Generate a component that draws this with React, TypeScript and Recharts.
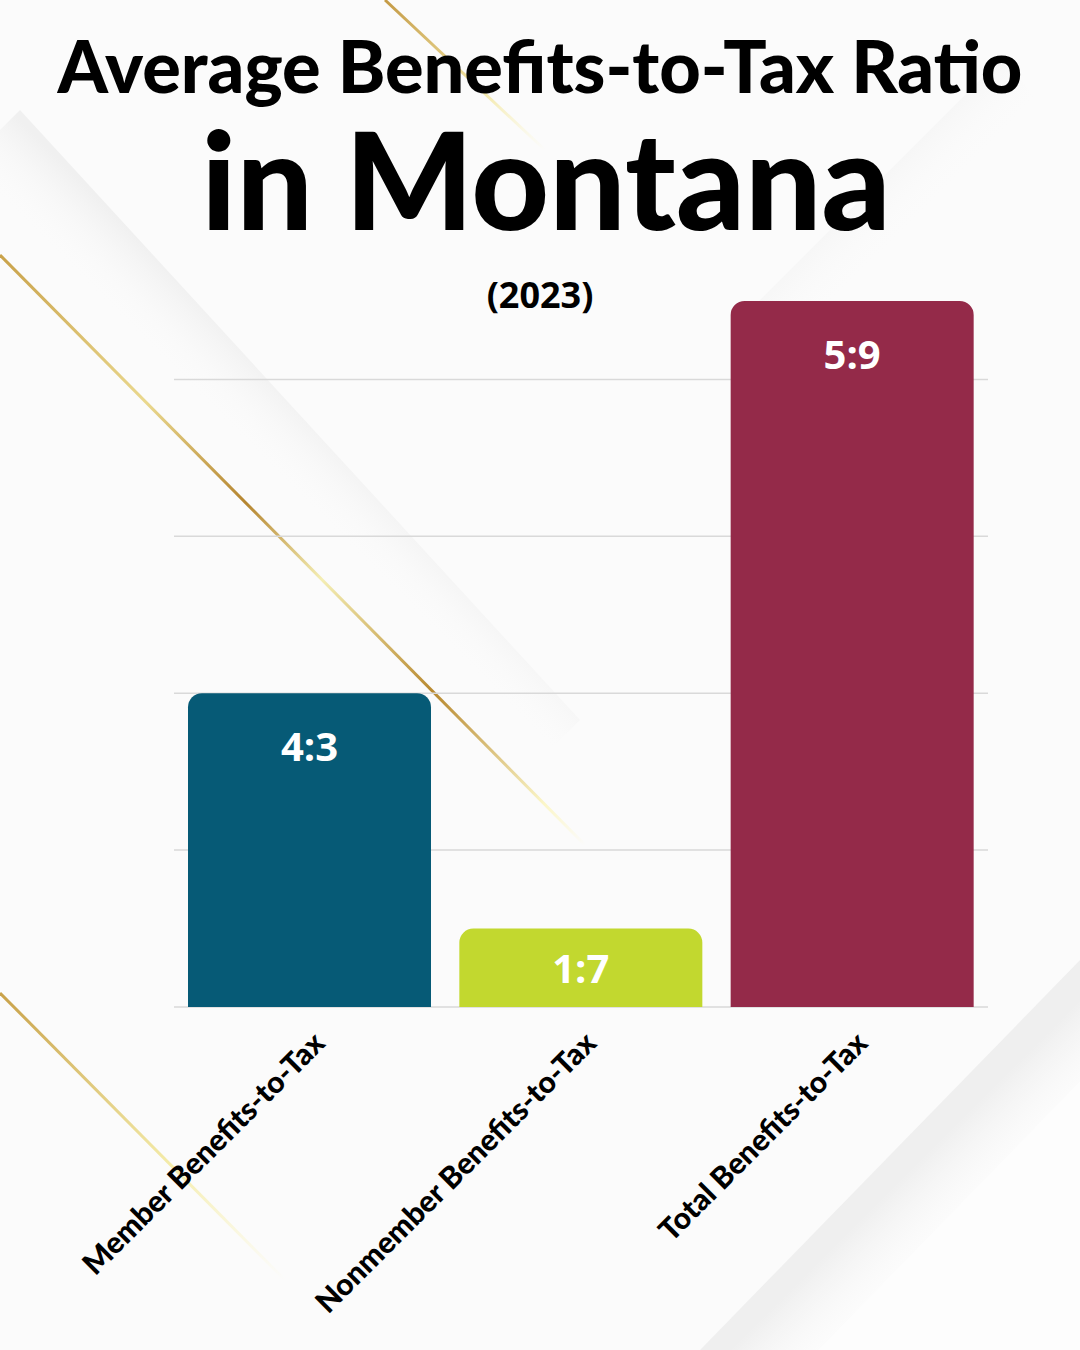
import { BarChart, Bar, XAxis, YAxis, CartesianGrid, LabelList, Cell } from "recharts";

const categories = ["Member Benefits-to-Tax", "Nonmember Benefits-to-Tax", "Total Benefits-to-Tax"];
const ratioLabels = ["4:3", "1:7", "5:9"];
// bar heights as drawn, in gridline units
const barHeights = [2.0, 0.5, 4.5];
const barColors = ["#065a76", "#c2d82f", "#942a49"];
const yTicks = [0, 1, 2, 3, 4];

const data = categories.map((name, i) => ({
  name,
  value: barHeights[i],
  label: ratioLabels[i],
}));

function AngledTick({ x, y, payload }: any) {
  return (
    <text
      transform={`translate(${x + 17},${y + 38}) rotate(-45)`}
      textAnchor="end"
      fontFamily="Lato"
      fontWeight={900}
      fontSize={30}
      fill="#000"
    >
      {payload.value}
    </text>
  );
}

function RatioLabel({ x, y, width, height, value }: any) {
  const dy = Math.min(52, height / 2);
  return (
    <text
      x={x + width / 2}
      y={y + dy}
      textAnchor="middle"
      dominantBaseline="central"
      fill="#fff"
      fontFamily="Open Sans"
      fontWeight={700}
      fontSize={40}
    >
      {value}
    </text>
  );
}

function Backdrop() {
  return (
    <svg width={1080} height={1350} style={{ position: "absolute", left: 0, top: 0 }}>
      <defs>
        <linearGradient id="shadeA" gradientUnits="userSpaceOnUse" x1="300" y1="400" x2="250" y2="450">
          <stop offset="0" stopColor="#f0f0f0" />
          <stop offset="1" stopColor="#fbfbfb" stopOpacity={0} />
        </linearGradient>
        <linearGradient id="shadeB" gradientUnits="userSpaceOnUse" x1="600" y1="500" x2="650" y2="550">
          <stop offset="0" stopColor="#f0f0f0" />
          <stop offset="1" stopColor="#fbfbfb" stopOpacity={0} />
        </linearGradient>
        <linearGradient id="shadeC" gradientUnits="userSpaceOnUse" x1="980" y1="1100" x2="1040" y2="1160">
          <stop offset="0" stopColor="#efefef" />
          <stop offset="1" stopColor="#fbfbfb" stopOpacity={0} />
        </linearGradient>
        <linearGradient id="shadeD" gradientUnits="userSpaceOnUse" x1="900" y1="120" x2="960" y2="180">
          <stop offset="0" stopColor="#f1f1f1" />
          <stop offset="1" stopColor="#fbfbfb" stopOpacity={0} />
        </linearGradient>
        <linearGradient id="goldA" gradientUnits="userSpaceOnUse" x1="0" y1="255" x2="585" y2="845">
          <stop offset="0" stopColor="#c9a24a" />
          <stop offset="0.25" stopColor="#ead88e" />
          <stop offset="0.42" stopColor="#b5852f" />
          <stop offset="0.55" stopColor="#f4eeb4" />
          <stop offset="0.74" stopColor="#b8892f" />
          <stop offset="0.93" stopColor="#fbf6c8" />
          <stop offset="1" stopColor="#fbf6c8" stopOpacity={0} />
        </linearGradient>
        <linearGradient id="goldB" gradientUnits="userSpaceOnUse" x1="385" y1="0" x2="545" y2="150">
          <stop offset="0" stopColor="#c49a45" />
          <stop offset="0.6" stopColor="#f2e7a6" />
          <stop offset="1" stopColor="#fbf6c8" stopOpacity={0} />
        </linearGradient>
        <linearGradient id="goldC" gradientUnits="userSpaceOnUse" x1="0" y1="993" x2="285" y2="1280">
          <stop offset="0" stopColor="#c9a24a" />
          <stop offset="0.6" stopColor="#f4ecaa" />
          <stop offset="1" stopColor="#fbf6c8" stopOpacity={0} />
        </linearGradient>
      </defs>
      <rect width={1080} height={1350} fill="#fbfbfb" />
      <polygon points="20,110 580,720 530,770 -30,160" fill="url(#shadeA)" />
      <polygon points="1080,140 490,730 540,780 1130,190" fill="url(#shadeB)" />
      <polygon points="1080,960 700,1350 1080,1350" fill="#fdfdfd" />
      <polygon points="1080,960 700,1350 760,1410 1140,1020" fill="url(#shadeC)" />
      <polygon points="1000,60 740,320 800,380 1060,120" fill="url(#shadeD)" />
      <line x1={0} y1={255} x2={585} y2={845} stroke="url(#goldA)" strokeWidth={3} />
      <line x1={385} y1={0} x2={545} y2={150} stroke="url(#goldB)" strokeWidth={3} />
      <line x1={0} y1={993} x2={285} y2={1280} stroke="url(#goldC)" strokeWidth={3} />
    </svg>
  );
}

export default function App() {
  return (
    <div style={{ position: "absolute", left: 0, top: 0, width: 1080, height: 1350, overflow: "hidden" }}>
      <Backdrop />
      <div style={{ position: "absolute", left: 0, top: 0 }}>
        <BarChart
          width={1080}
          height={1350}
          data={data}
          margin={{ top: 301, right: 92, bottom: 43, left: 174 }}
        >
          <CartesianGrid vertical={false} stroke="#d9d9d9" strokeWidth={1.5} syncWithTicks />
          <YAxis hide domain={[0, 4.5]} ticks={yTicks} />
          <XAxis
            dataKey="name"
            axisLine={false}
            tickLine={false}
            tickSize={0}
            tickMargin={0}
            height={300}
            interval={0}
            tick={<AngledTick />}
          />
          <Bar dataKey="value" barSize={243} radius={[14, 14, 0, 0]} isAnimationActive={false}>
            {data.map((d, i) => (
              <Cell key={d.name} fill={barColors[i]} />
            ))}
            <LabelList dataKey="label" content={<RatioLabel />} />
          </Bar>
        </BarChart>
      </div>
      <svg width={1080} height={330} style={{ position: "absolute", left: 0, top: 0 }}>
        <text x={540} y={93} textAnchor="middle" fontFamily="Lato" fontWeight={900} fontSize={72} fill="#000">
          Average Benefits-to-Tax Ratio
        </text>
        <text x={546} y={230} textAnchor="middle" fontFamily="Lato" fontWeight={900} fontSize={135} fill="#000">
          in Montana
        </text>
        <text x={540} y={308} textAnchor="middle" fontFamily="Open Sans" fontWeight={700} fontSize={36} fill="#000">
          (2023)
        </text>
      </svg>
    </div>
  );
}
